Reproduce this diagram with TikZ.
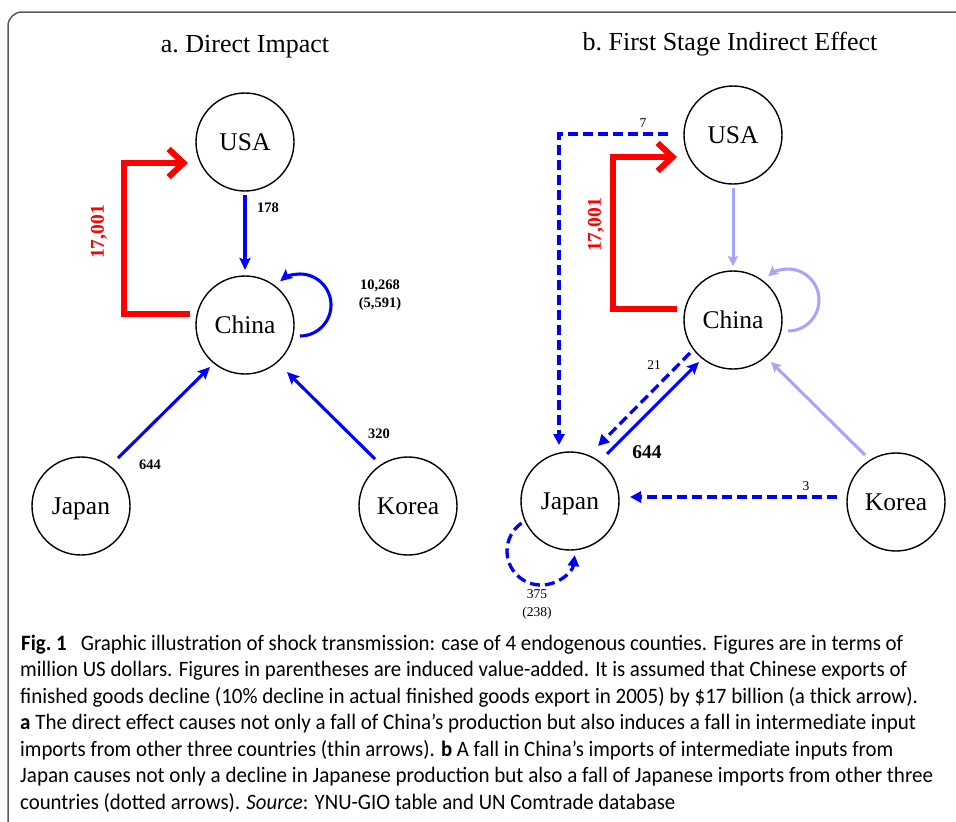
\documentclass[tikz,border=0pt]{standalone}
\usepackage{fontspec}
\usepackage{graphicx}
\setmainfont{Liberation Serif}
\newfontfamily\capfont{Carlito}
\usetikzlibrary{arrows.meta,calc}
\definecolor{faded}{RGB}{165,165,250}
\definecolor{frame}{RGB}{90,90,90}
\begin{document}
\begin{tikzpicture}[x=1pt,y=-1pt,
  country/.style={circle,draw=black,line width=1.4pt,minimum size=98pt,inner sep=0pt,text height=16.9pt,text depth=0pt,font=\fontsize{25.5}{28}\selectfont},
  titletext/.style={anchor=base,inner sep=0pt,font=\fontsize{26}{30}\selectfont},
  lab/.style={inner sep=0pt,font=\bfseries\fontsize{14.5}{18.5}\selectfont,align=center},
  slab/.style={inner sep=0pt,font=\fontsize{13.5}{18}\selectfont,align=center},
  redlab/.style={inner sep=0pt,text=red,font=\bfseries\fontsize{19.5}{22}\selectfont,rotate=90},
  thinarrow/.style={draw=blue,line width=3.1pt,-{Stealth[length=12pt,width=11pt,inset=2pt]}},
  fadedarrow/.style={draw=faded,line width=3pt,-{Stealth[length=10pt,width=10pt,inset=2pt]}},
  dasharrow/.style={draw=blue,line width=3.3pt,dash pattern=on 10pt off 5pt,-{Triangle[length=11pt,width=11pt]}},
  thickarrow/.style={draw=red,line width=6pt,-{Straight Barb[length=15pt,width=28pt]}},
  capline/.style={anchor=base west,inner sep=0pt,font=\capfont\fontsize{22}{26}\selectfont}
]
\useasboundingbox (0,0) rectangle (956,822);
\fill[white] (0,0) rectangle (956,822);
\draw[frame,line width=1.5pt,rounded corners=14pt] (8,12) rectangle (1000,834);

% ---------- titles
\node[titletext] (ta) at (245,52) {a.\ Direct Impact};
\node[titletext] (tb) at (730,50) {b.\ First Stage Indirect Effect};

% ---------- panel a
\node[country] (uA) at (245,142) {USA};
\node[country] (cA) at (245,325) {China};
\node[country] (jA) at (81,506) {Japan};
\node[country] (kA) at (408,506) {Korea};

\draw[thickarrow] ($(cA)+(-55,-11)$) -- ++(-66,0) |- ($(uA)+(-57,21)$);
\node[redlab] (rA) at (99,232) {17,001};

\draw[thinarrow] ($(uA)+(0,53)$) -- ($(cA)+(0,-55)$);
\node[lab] (l178) at (268,208) {178};

\draw[thinarrow,shift={(cA)}] (55,11) .. controls (72.1,11) and (86,-2.9) .. (86,-20)
  .. controls (86,-37.1) and (72.1,-51) .. (55,-51)
  .. controls (47.7,-51) and (40.7,-48.4) .. (35.1,-43.7);
\node[lab] (lself) at (380,295) {10,268\\(5,591)};

\draw[thinarrow] ($(jA)+(37,-48)$) -- ($(cA)+(-35,42)$);
\node[lab] (l644a) at (150,465) {644};

\draw[thinarrow] ($(kA)+(-33,-47)$) -- ($(cA)+(42,47)$);
\node[lab] (l320) at (379,434) {320};

% ---------- panel b
\node[country] (uB) at (733,135) {USA};
\node[country] (cB) at (733,320) {China};
\node[country] (jB) at (570,501) {Japan};
\node[country] (kB) at (896,502) {Korea};

\draw[dasharrow] ($(uB)+(-65,-1)$) -| ($(jB)+(-11,-56)$);
\node[slab] (l7) at (643,123) {7};

\draw[thickarrow] ($(cB)+(-56,-11)$) -- ++(-64,0) |- ($(uB)+(-56,22)$);
\node[redlab] (rB) at (596,225) {17,001};

\draw[fadedarrow] ($(uB)+(0,53)$) -- ($(cB)+(0,-54)$);
\draw[fadedarrow,shift={(cB)}] (55,11) .. controls (72.1,11) and (86,-2.9) .. (86,-20)
  .. controls (86,-37.1) and (72.1,-51) .. (55,-51)
  .. controls (47.7,-51) and (40.7,-48.4) .. (35.1,-43.7);
\draw[fadedarrow] ($(kB)+(-31,-47)$) -- ($(cB)+(38,42)$);

\draw[thinarrow] ($(jB)+(37,-47)$) -- ($(cB)+(-34,42)$);
\node[inner sep=0pt,font=\bfseries\fontsize{19.5}{22}\selectfont] (l644b) at (647,452) {644};

\draw[dasharrow] ($(cB)+(-43,33)$) -- ($(jB)+(28,-55)$);
\node[slab] (l21) at (654,365) {21};

\draw[dasharrow] ($(kB)+(-59,-5)$) -- ($(jB)+(60,-4)$);
\node[slab] (l3) at (806,486) {3};

\draw[dasharrow,shift={(jB)}] (-48.5,22.1) .. controls (-57.6,28.5) and (-63,38.9) .. (-63,50)
  .. controls (-63,68.8) and (-47.8,84) .. (-29,84)
  .. controls (-11.8,84) and (2.6,71.2) .. (4.7,54.1);
\node[slab] (lj) at (537,604) {375\\(238)};

% ---------- caption
\node[capline] (cap1) at (21,650) {\resizebox{882pt}{\height}{\textbf{Fig.\ 1}\hspace{0.45em} Graphic illustration of shock transmission: case of 4 endogenous counties. Figures are in terms of}};
\node[capline] (cap2) at (20,676.5) {\resizebox{887pt}{\height}{million US dollars. Figures in parentheses are induced value-added. It is assumed that Chinese exports of}};
\node[capline] (cap3) at (20,703) {\resizebox{898pt}{\height}{finished goods decline (10\% decline in actual finished goods export in 2005) by \$17 billion (a thick arrow).}};
\node[capline] (cap4) at (20,729.5) {\resizebox{896pt}{\height}{\textbf{a} The direct effect causes not only a fall of China’s production but also induces a fall in intermediate input}};
\node[capline] (cap5) at (20,756) {\resizebox{873pt}{\height}{imports from other three countries (thin arrows). \textbf{b} A fall in China’s imports of intermediate inputs from}};
\node[capline] (cap6) at (20,782.5) {\resizebox{913pt}{\height}{Japan causes not only a decline in Japanese production but also a fall of Japanese imports from other three}};
\node[capline] (cap7) at (20,809) {\resizebox{655pt}{\height}{countries (dotted arrows). \textit{Source}: YNU-GIO table and UN Comtrade database}};
\end{tikzpicture}
\end{document}
